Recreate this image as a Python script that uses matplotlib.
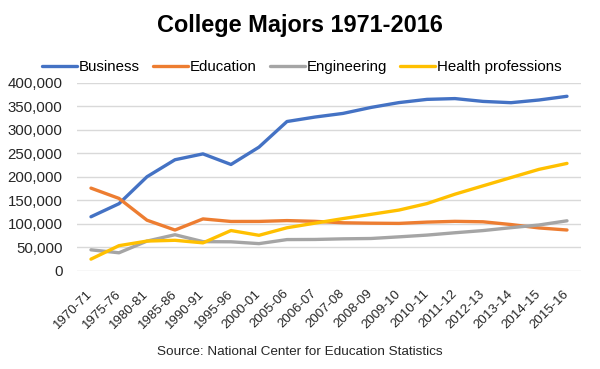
import matplotlib
matplotlib.use("Agg")
import matplotlib.pyplot as plt
from matplotlib.ticker import FuncFormatter

plt.rcParams['font.family'] = ['Liberation Sans', 'DejaVu Sans']

years = ["1970-71", "1975-76", "1980-81", "1985-86", "1990-91", "1995-96",
         "2000-01", "2005-06", "2006-07", "2007-08", "2008-09", "2009-10",
         "2010-11", "2011-12", "2012-13", "2013-14", "2014-15", "2015-16"]

business = [115396, 143171, 200521, 236700, 249165, 226623, 263515, 318042,
            327531, 335254, 347985, 358293, 365133, 366815, 360823, 358079,
            363799, 371694]
education = [176307, 154437, 108074, 87147, 110807, 105384, 105458, 107238,
             105641, 102582, 101708, 101265, 103992, 105656, 104698, 98838,
             91623, 87217]
engineering = [45034, 38733, 63642, 77154, 62448, 62114, 58209, 66841,
               67092, 68431, 69133, 72654, 76376, 81371, 85987, 92169,
               97858, 106789]
health = [25223, 53885, 63665, 65309, 59875, 86087, 75933, 91973,
          101810, 111478, 120488, 129634, 143430, 163440, 181144, 198770,
          216228, 228896]

series = [("Business", business, "#4472C4"),
          ("Education", education, "#ED7D31"),
          ("Engineering", engineering, "#A5A5A5"),
          ("Health professions", health, "#FFC000")]

fig = plt.figure(figsize=(6, 3.69), dpi=100)
ax = fig.add_axes([0.1283, 0.2656, 0.84, 0.5095])

x = list(range(len(years)))
for name, vals, col in series:
    ax.plot(x, vals, color=col, lw=2.4, label=name, solid_capstyle='round')

ax.set_xlim(-0.5, len(years) - 0.5)
ax.set_ylim(0, 400000)
ax.set_yticks(range(0, 400001, 50000))
ax.yaxis.set_major_formatter(FuncFormatter(lambda v, p: f"{int(v):,}"))
ax.set_xticks(x)
ax.set_xticklabels(years, rotation=45, ha='right', va='center',
                   rotation_mode='anchor')
ax.tick_params(axis='both', length=0, colors='#262626')
ax.tick_params(axis='x', labelsize=9.5, pad=15)
ax.tick_params(axis='y', labelsize=10.8, pad=10.5)
ax.grid(axis='y', color='#D9D9D9', lw=1)
ax.set_axisbelow(True)
for s in ax.spines.values():
    s.set_visible(False)

fig.text(0.5, 0.93, "College Majors 1971-2016", ha='center', va='center',
         fontsize=16.9, fontweight='bold')
ax.legend(loc='center', bbox_to_anchor=(302 / 600, 1 - 67 / 369),
          bbox_transform=fig.transFigure, ncol=4, frameon=False,
          fontsize=10.8, handlelength=2.33, handletextpad=0.13,
          columnspacing=0.87, borderaxespad=0, borderpad=0)
fig.text(0.5, 1 - 352 / 369, "Source: National Center for Education Statistics",
         ha='center', va='center', fontsize=9.7, color='#262626')

fig.savefig("out.png", dpi=100)
